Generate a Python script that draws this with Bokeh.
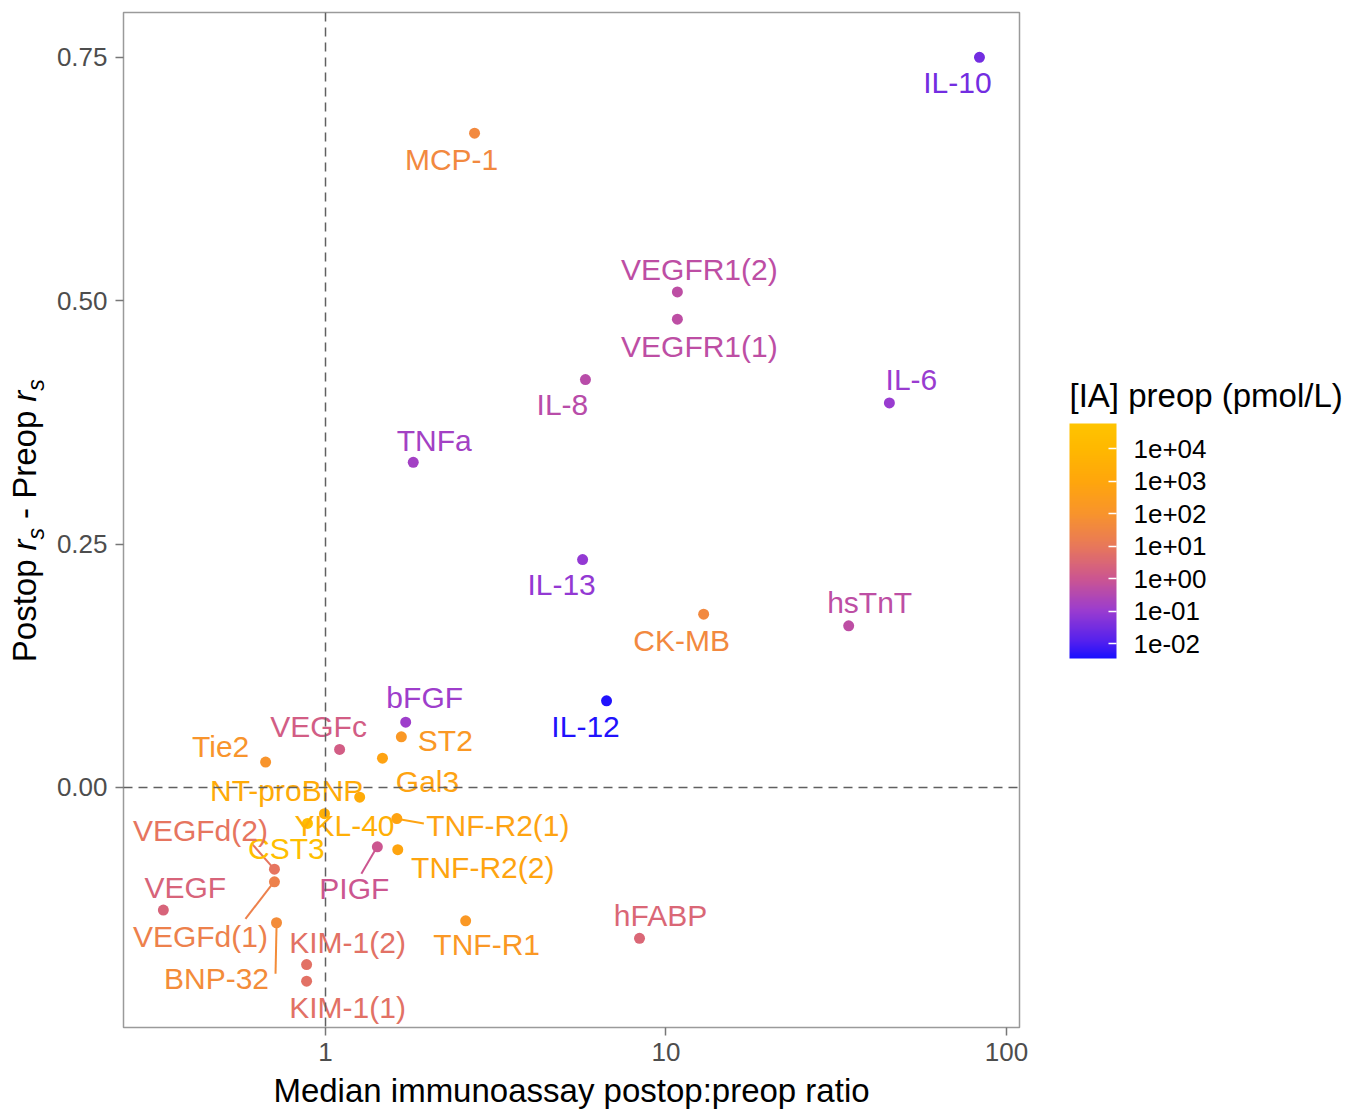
import math
from bokeh.plotting import figure
from bokeh.layouts import row
from bokeh.models import (ColumnDataSource, LinearColorMapper, ColorBar, FixedTicker,
                          Span, CustomJSTickFormatter)
from bokeh.transform import transform
from bokeh.core.properties import value
from bokeh.embed import file_html
from bokeh.resources import INLINE

# ---------------- data ----------------
markers = ["IL-10", "MCP-1", "VEGFR1(2)", "VEGFR1(1)", "IL-8", "IL-6", "TNFa", "IL-13",
           "hsTnT", "CK-MB", "IL-12", "bFGF", "ST2", "VEGFc", "Gal3", "Tie2", "NT-proBNP",
           "YKL-40", "CST3", "TNF-R2(1)", "TNF-R2(2)", "PIGF", "VEGFd(2)", "VEGFd(1)",
           "VEGF", "BNP-32", "KIM-1(2)", "KIM-1(1)", "TNF-R1", "hFABP"]
ratio = [83.3, 2.74, 10.8, 10.8, 5.80, 45.3, 1.81, 5.69,
         34.4, 12.9, 6.69, 1.72, 1.67, 1.10, 1.47, 0.667, 1.26,
         0.993, 0.885, 1.62, 1.63, 1.42, 0.708, 0.708,
         0.334, 0.718, 0.88, 0.88, 2.58, 8.36]
delta_rs = [0.750, 0.672, 0.509, 0.481, 0.419, 0.395, 0.334, 0.234,
            0.166, 0.178, 0.089, 0.067, 0.052, 0.039, 0.030, 0.026, -0.010,
            -0.027, -0.037, -0.032, -0.064, -0.061, -0.084, -0.097,
            -0.126, -0.139, -0.182, -0.199, -0.137, -0.155]
preop_pmol = [0.03, 40, 0.5, 0.5, 0.4, 0.1, 0.16, 0.08,
              0.5, 40, 0.004, 0.12, 160, 1.6, 630, 100, 2000,
              3200, 25000, 630, 800, 1.0, 8, 20,
              2.5, 50, 6.3, 6.3, 160, 3.2]
x_ticks = [1, 10, 100]
y_ticks = [0.0, 0.25, 0.50, 0.75]
cbar_ticks = [-2, -1, 0, 1, 2, 3, 4]
x_title = "Median immunoassay postop:preop ratio"
legend_title = "[IA] preop (pmol/L)"

# ---------------- layout (label placement, px) ----------------
label_dx = [-22, -23, 22, 22, -23, 22, 21, -21, 21, -22, -21, 19, 44, -21, 45, -45, -73,
            20, -21, 101, 85, -23, -74, -74, 22, -60, 41, 41, 21, 21]
label_dy = [25, 26, -22, 27, 25, -23, -22, 25, -23, 26, 26, -25, 4, -23, 23, -16, -7,
            12, 25, 7, 18, 42, -39, 55, -23, 56, -22, 26, 24, -23]
# leader segments: (marker, start dx, dy, end dx, dy) in px relative to point
leaders = [("TNF-R2(1)", 4, 1, 27, 5), ("PIGF", -2, 3, -16, 27),
           ("VEGFd(2)", -23, -26, -2, -2), ("VEGFd(1)", -29, 37, -2, 2),
           ("BNP-32", 0, 4, -1, 51)]

XMIN, XMAX = 0.2551, 109.2
YMIN, YMAX = -0.2466, 0.796
H = 1109
YW = 50                 # width of y-title strip
FW, FH = 896, 1015
ML, MT, MR, MB = 73, 12, 30, 82
LW = 1358 - YW - (ML + FW + MR)   # legend strip width
PAGE_Y = (H - MT - FH, H - MT)    # page-pixel y range of the aligned frames (bottom-up)

FONT = "Liberation Sans"

log_pre = [math.log10(v) for v in preop_pmol]

anchors = [(-2.46, (0x1a, 0x10, 0xff)), (-2, (0x4f, 0x1f, 0xf0)), (-1, (0x9a, 0x3c, 0xd0)),
           (0, (0xcc, 0x56, 0x90)), (1, (0xe8, 0x78, 0x5a)), (2, (0xf8, 0x94, 0x2c)),
           (3, (0xff, 0xa6, 0x0c)), (4, (0xff, 0xb8, 0x00)), (4.77, (0xff, 0xc4, 0x00))]
LO, HI = anchors[0][0], anchors[-1][0]
palette = []
for i in range(256):
    v = LO + (HI - LO) * i / 255
    for (a, ca), (b, cb_) in zip(anchors[:-1], anchors[1:]):
        if a <= v <= b:
            t = (v - a) / (b - a)
            c = tuple(int(round(ca[k] + (cb_[k] - ca[k]) * t)) for k in range(3))
            break
    palette.append("#%02x%02x%02x" % c)
mapper = LinearColorMapper(palette=palette, low=LO, high=HI)

src = ColumnDataSource(dict(marker=markers, ratio=ratio, delta=delta_rs,
                            logc=log_pre, xo=label_dx, yo=label_dy))

p = figure(frame_width=FW, frame_height=FH, x_axis_type="log",
           x_range=(XMIN, XMAX), y_range=(YMIN, YMAX),
           output_backend="svg", toolbar_location=None,
           min_border_left=ML, min_border_top=MT, min_border_right=MR, min_border_bottom=MB)
p.background_fill_color = "white"
p.border_fill_color = "white"
p.outline_line_color = "#9a9a9a"
p.outline_line_width = 1.5
p.xgrid.visible = False
p.ygrid.visible = False

for ax in (p.xaxis[0], p.yaxis[0]):
    ax.axis_line_color = None
    ax.major_tick_line_color = "#777777"
    ax.major_tick_line_width = 1.5
    ax.major_tick_out = 8
    ax.major_tick_in = 0
    ax.minor_tick_line_color = None
    ax.major_label_text_font = FONT
    ax.major_label_text_font_size = "26px"
    ax.major_label_text_color = "#4d4d4d"

p.xaxis.ticker = FixedTicker(ticks=x_ticks, minor_ticks=[])
p.xaxis.formatter = CustomJSTickFormatter(code="return String(Math.round(tick));")
p.xaxis.major_label_standoff = 7
p.xaxis.axis_label = x_title
p.xaxis.axis_label_text_font = FONT
p.xaxis.axis_label_text_font_size = "33px"
p.xaxis.axis_label_text_font_style = "normal"
p.xaxis.axis_label_text_color = "black"
p.xaxis.axis_label_standoff = 8

p.yaxis.ticker = FixedTicker(ticks=y_ticks, minor_ticks=[])
p.yaxis.formatter = CustomJSTickFormatter(code="return tick.toFixed(2);")
p.yaxis.major_label_standoff = 8

# reference lines
p.add_layout(Span(location=1, dimension="height", line_color="#606060",
                  line_width=1.5, line_dash="9 6"))
p.add_layout(Span(location=0, dimension="width", line_color="#606060",
                  line_width=1.5, line_dash="9 6"))

# px <-> data helpers for leader segments
lx0, lx1 = math.log10(XMIN), math.log10(XMAX)
def to_px(x, y):
    return ((math.log10(x) - lx0) / (lx1 - lx0) * FW, (YMAX - y) / (YMAX - YMIN) * FH)
def to_data(px, py):
    return (10 ** (lx0 + px / FW * (lx1 - lx0)), YMAX - py / FH * (YMAX - YMIN))

sx0, sy0, sx1, sy1, sl = [], [], [], [], []
for name, a, b, c, d in leaders:
    i = markers.index(name)
    px, py = to_px(ratio[i], delta_rs[i])
    x0, y0 = to_data(px + a, py + b)
    x1, y1 = to_data(px + c, py + d)
    sx0.append(x0); sy0.append(y0); sx1.append(x1); sy1.append(y1); sl.append(log_pre[i])
seg_src = ColumnDataSource(dict(x0=sx0, y0=sy0, x1=sx1, y1=sy1, logc=sl))
p.segment("x0", "y0", "x1", "y1", source=seg_src, line_width=2,
          line_color=transform("logc", mapper))

p.scatter("ratio", "delta", source=src, size=11, line_color=None,
          fill_color=transform("logc", mapper))
p.text("ratio", "delta", text="marker", source=src, x_offset="xo", y_offset="yo",
       text_color=transform("logc", mapper), text_font=value(FONT),
       text_font_size="30px", text_align="center", text_baseline="middle")

# ---------------- y-title strip (italic r with subscript s) ----------------
yfig = figure(width=YW, height=H, x_range=(0, YW), y_range=PAGE_Y, output_backend="svg",
              toolbar_location=None, x_axis_location=None, y_axis_location=None,
              min_border_left=0, min_border_right=0, min_border_top=MT, min_border_bottom=MB,
              outline_line_color=None)
yfig.xgrid.visible = False
yfig.ygrid.visible = False
W = {"P": 667, "o": 556, "s": 500, "t": 278, "p": 556, " ": 278, "-": 333, "r": 333, "e": 556}
def width(txt, size):
    return sum(W[ch] for ch in txt) * size / 1000.0
ytitle = [("Postop ", "normal", 33, 0), ("r", "italic", 33, 0), ("s", "italic", 23, 11),
          (" - Preop ", "normal", 33, 0), ("r", "italic", 33, 0), ("s", "italic", 23, 11)]
pos = 663.0   # page y where the title starts (reads bottom to top)
BX = 24
for txt, style, size, shift in ytitle:
    lead = len(txt) - len(txt.lstrip(" "))
    start = pos - width(" " * lead, size)
    yfig.text(x=[BX + shift], y=[H - start], text=[txt.strip(" ")], angle=math.pi / 2,
              text_font=value(FONT), text_font_size="%dpx" % size, text_font_style=style,
              text_color="black", text_align="left", text_baseline="alphabetic")
    pos -= width(txt, size)

# ---------------- legend strip ----------------
lfig = figure(width=LW, height=H, x_range=(0, LW), y_range=PAGE_Y, output_backend="svg",
              toolbar_location=None, x_axis_location=None, y_axis_location=None,
              min_border_left=0, min_border_right=0, min_border_top=MT, min_border_bottom=MB,
              outline_line_color=None)
lfig.xgrid.visible = False
lfig.ygrid.visible = False
LX0 = 1358 - LW
lfig.text(x=[1069 - LX0], y=[H - 396], text=[legend_title], text_font=value(FONT),
          text_font_size="33px", text_color="black", text_align="left",
          text_baseline="middle")
cb = ColorBar(color_mapper=mapper, ticker=FixedTicker(ticks=cbar_ticks, minor_ticks=[]),
              formatter=CustomJSTickFormatter(code="""
                const e = Math.round(tick); const s = e < 0 ? '-' : '+';
                const a = Math.abs(e); return '1e' + s + (a < 10 ? '0' : '') + a;"""),
              width=47, height=235, padding=0, margin=0,
              major_label_text_font=FONT, major_label_text_font_size="26px",
              major_label_text_color="black", label_standoff=17,
              major_tick_line_color="white", major_tick_line_width=1.5,
              major_tick_in=8, major_tick_out=0, minor_tick_line_color=None,
              bar_line_color=None, border_line_color=None, background_fill_color=None,
              location=(1069 - LX0, (MT + FH) - 660))
lfig.add_layout(cb)

layout = row(yfig, p, lfig, spacing=0)
open("out.html", "w").write(file_html(layout, INLINE))
